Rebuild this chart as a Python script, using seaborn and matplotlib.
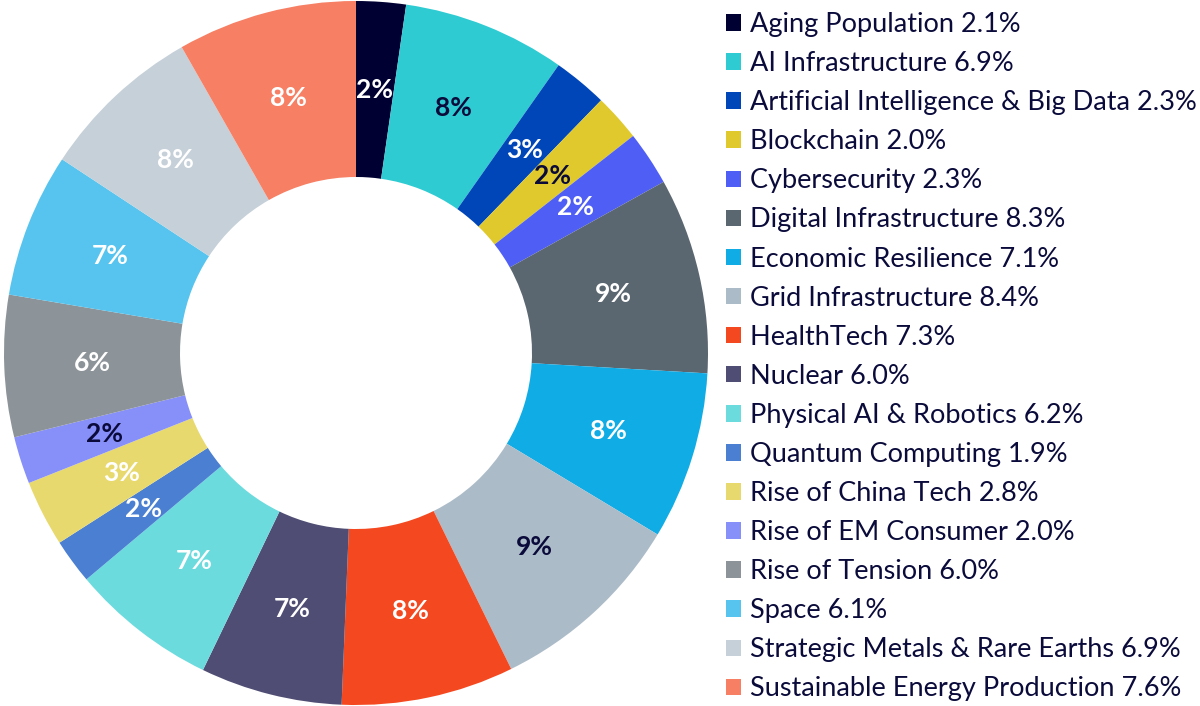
import matplotlib
matplotlib.use("Agg")
import numpy as np
import matplotlib.pyplot as plt
import seaborn as sns
from matplotlib.patches import Patch

sns.set_theme(style="white")
plt.rcParams['font.family'] = ['Lato', 'DejaVu Sans']

# theme names and weights (as printed in the legend)
themes = ['Aging Population', 'AI Infrastructure', 'Artificial Intelligence & Big Data',
          'Blockchain', 'Cybersecurity', 'Digital Infrastructure', 'Economic Resilience',
          'Grid Infrastructure', 'HealthTech', 'Nuclear', 'Physical AI & Robotics',
          'Quantum Computing', 'Rise of China Tech', 'Rise of EM Consumer',
          'Rise of Tension', 'Space', 'Strategic Metals & Rare Earths',
          'Sustainable Energy Production']
weights = [2.1, 6.9, 2.3, 2.0, 2.3, 8.3, 7.1, 8.4, 7.3, 6.0, 6.2, 1.9, 2.8, 2.0,
           6.0, 6.1, 6.9, 7.6]
# labels shown on the slices
slice_labels = ['2%', '8%', '3%', '2%', '2%', '9%', '8%', '9%', '8%', '7%', '7%',
                '2%', '3%', '2%', '6%', '7%', '8%', '8%']

colors = ['#000033', '#2ECBD2', '#0046B9', '#DFC92C', '#4F5FF5', '#5A6670',
          '#10ACE6', '#ACBBC8', '#F44920', '#4F4D73', '#6BDBDE', '#4A7FD1',
          '#E8D96E', '#878FF8', '#8C9399', '#56C4EE', '#C6D0D8', '#F67F64']
dark = '#0B0B3B'
label_colors = ['white', dark, 'white', dark, 'white', 'white', 'white', dark,
                'white', 'white', 'white', 'white', 'white', dark, 'white',
                'white', 'white', 'white']

fig = plt.figure(figsize=(12, 7.06), dpi=100)
ax = fig.add_axes([4 / 1200, 1 / 706, 704 / 1200, 704 / 706])

wedges, _ = ax.pie(weights, colors=sns.color_palette(colors), startangle=90,
                   counterclock=False, radius=1,
                   wedgeprops=dict(width=0.5, linewidth=0))

for w, lab, c in zip(wedges, slice_labels, label_colors):
    ang = np.deg2rad((w.theta1 + w.theta2) / 2)
    ax.text(0.75 * np.cos(ang), 0.75 * np.sin(ang), lab, ha='center', va='center',
            fontsize=19, fontweight='bold', color=c)

ax.set_xlim(-1, 1)
ax.set_ylim(-1, 1)
ax.set_aspect('equal')
ax.axis('off')

handles = [Patch(facecolor=c, edgecolor='none') for c in colors]
legend_labels = [f'{t} {v:.1f}%' for t, v in zip(themes, weights)]
leg = fig.legend(handles, legend_labels, loc='upper left',
                 bbox_to_anchor=(722 / 1200, 1 - 8 / 706), frameon=False,
                 fontsize=19.5, handlelength=0.56, handleheight=0.56,
                 handletextpad=0.33, labelspacing=0.52, borderaxespad=0,
                 borderpad=0.15)
for t in leg.get_texts():
    t.set_color(dark)

fig.savefig('out.png', dpi=100)
